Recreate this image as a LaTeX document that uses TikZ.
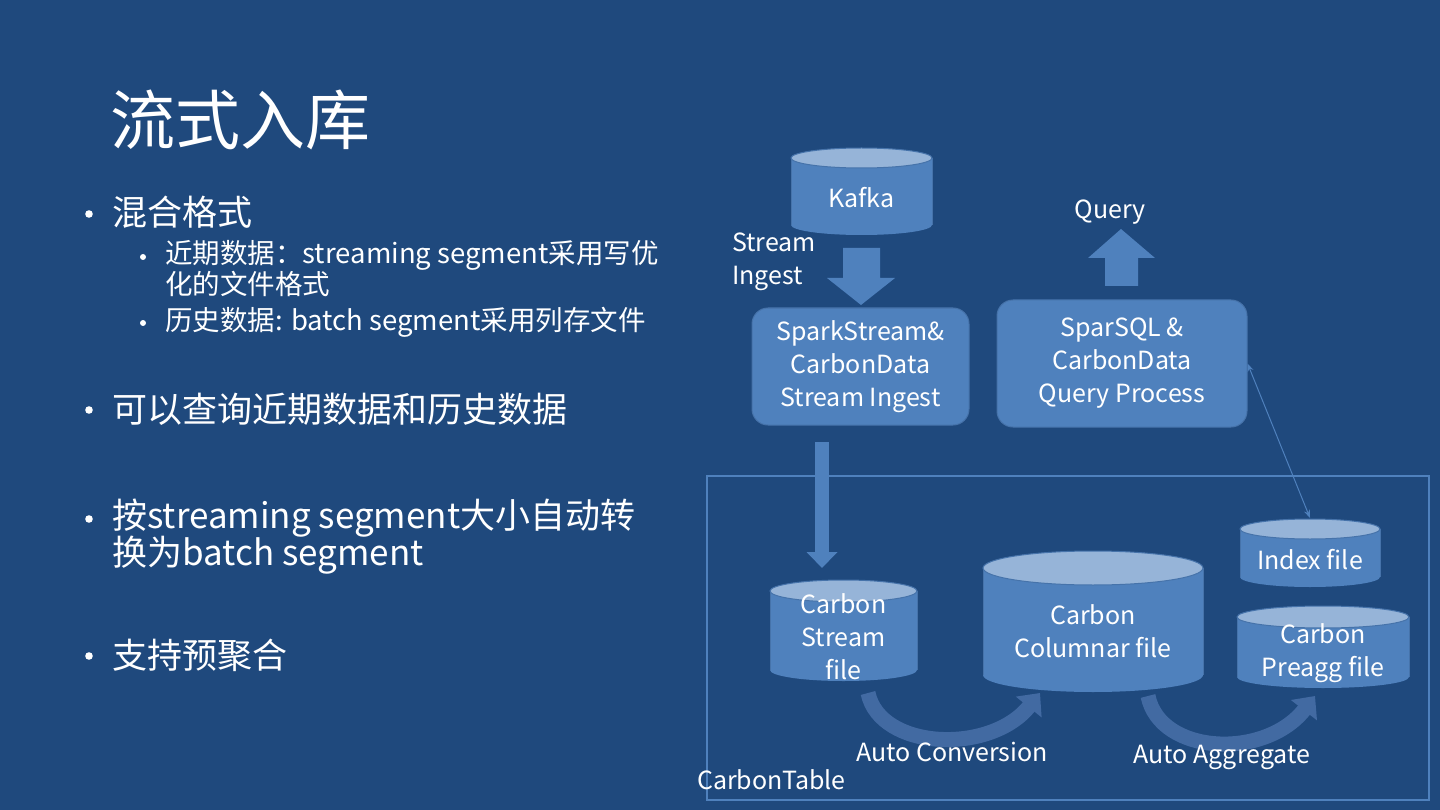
\documentclass[tikz,border=0pt]{standalone}
\usepackage{fontspec}
\setmainfont{Noto Sans CJK SC}
\usetikzlibrary{arrows.meta}
\definecolor{bg}{RGB}{31,73,125}
\definecolor{boxfill}{RGB}{79,129,189}
\definecolor{boxline}{RGB}{70,115,170}
\definecolor{topfill}{RGB}{150,180,216}
\definecolor{curvecol}{RGB}{66,106,162}
\newcommand\mycyl[5]{%
  \fill[boxfill] (#1-#2,#3) rectangle (#1+#2,#4);
  \fill[boxfill] (#1,#4) ellipse [x radius=#2, y radius=#5];
  \draw[boxline, line width=1pt] (#1-#2,#3) -- (#1-#2,#4);
  \draw[boxline, line width=1pt] (#1+#2,#3) -- (#1+#2,#4);
  \fill[topfill] (#1,#3) ellipse [x radius=#2, y radius=#5];
  \draw[boxline, line width=1pt] (#1,#3) ellipse [x radius=#2, y radius=#5];
}
\tikzset{
  txt/.style={text=white, inner sep=0pt},
  title/.style={txt, anchor=west, font=\fontsize{65}{65}\selectfont},
  lvlone/.style={txt, anchor=west, font=\fontsize{35}{38}\selectfont},
  lvltwo/.style={txt, anchor=west, font=\fontsize{27.5}{30}\selectfont},
  dtext/.style={txt, align=center, font=\fontsize{25}{33}\selectfont},
  box/.style={draw=boxline, line width=1pt, fill=boxfill, rounded corners=16pt},
  blockarrow/.style={fill=boxfill},
  dot/.style={fill=white},
}
\begin{document}
\begin{tikzpicture}[x=1pt,y=-1pt]
\fill[bg] (0,0) rectangle (1440,810);
\useasboundingbox (0,0) rectangle (1440,810);

% left text
\node[title] (ttl) at (110,120) {流式入库};
\fill[dot] (89,214) circle (3.8);
\node[lvlone] (t1) at (112,212) {混合格式};
\fill[dot] (143,257) circle (3);
\node[lvltwo] (t2) at (165,255) {近期数据：streaming segment采用写优};
\node[lvltwo] (t2b) at (165,284) {化的文件格式};
\fill[dot] (143,323) circle (3);
\node[lvltwo] (t3) at (165,322) {历史数据: batch segment采用列存文件};
\fill[dot] (89,410) circle (3.8);
\node[lvlone] (t4) at (112,409) {可以查询近期数据和历史数据};
\fill[dot] (89,519) circle (3.8);
\node[lvlone] (t5) at (112,518) {按streaming segment大小自动转};
\node[lvlone] (t5b) at (112,555) {换为batch segment};
\fill[dot] (89,656) circle (3.8);
\node[lvlone] (t6) at (112,655) {支持预聚合};

% frame
\draw[boxfill, line width=1.5pt] (707,476) rectangle (1429,800);
\node[dtext, anchor=west] (ct) at (697,780) {CarbonTable};

% Kafka
\mycyl{861.5}{70.5}{158}{225}{10}
\node[dtext] (kafka) at (861.5,198) {Kafka};
\node[dtext, align=left, anchor=north west] (si) at (732,233) {Stream\\Ingest};

% block arrow down
\fill[blockarrow] (843,248) -- (880,248) -- (880,278) -- (895,278) -- (861,305) -- (827,278) -- (843,278) -- cycle;

% boxes
\node[box, minimum width=217pt, minimum height=117pt] (spark) at (860.5,366.5) {};
\node[dtext] at (spark.center) {SparkStream\&\\CarbonData\\Stream Ingest};
\node[box, minimum width=250pt, minimum height=127pt] (spar) at (1122,363.5) {};
\node[dtext] at (spar.center) {SparSQL \&\\CarbonData\\Query Process};

% Query
\node[dtext] (query) at (1110,212) {Query};
\fill[blockarrow] (1121,229) -- (1155,258) -- (1138,258) -- (1138,286) -- (1105,286) -- (1105,258) -- (1088,258) -- cycle;

% cylinders in table
\mycyl{843.5}{73.5}{591}{670}{11}
\node[dtext] (sfile) at (843.5,637) {Carbon\\Stream\\file};
\mycyl{1093}{110}{568}{675}{17}
\node[dtext] (cfile) at (1093,631) {Carbon\\Columnar file};
\mycyl{1310}{70}{529}{577}{10}
\node[dtext] (ifile) at (1310,560) {Index file};
\mycyl{1323}{86}{617}{677}{11}
\node[dtext] (pfile) at (1323,653) {Carbon\\Preagg file};

% connectors
\coordinate (sparkout) at (822,442);
\coordinate (streamin) at (822,568);
\draw[boxfill, line width=14pt, -{Triangle[width=30pt,length=16pt]}] (sparkout) -- (streamin);

\coordinate (idxtop) at (1310,518);
\draw[boxfill, line width=1pt, {Stealth[length=8pt,width=6pt]}-{Stealth[length=8pt,width=6pt]}] (spar.east) -- (idxtop);

\coordinate (c1s) at (868,693);
\coordinate (c1e) at (1040,693);
\draw[curvecol, line width=15pt, -{Triangle[width=32pt,length=18pt]}] (c1s) .. controls (880,750) and (990,755) .. (c1e);
\node[dtext] (ac) at (952,752) {Auto Conversion};

\coordinate (c2s) at (1148,696);
\coordinate (c2e) at (1315,696);
\draw[curvecol, line width=15pt, -{Triangle[width=32pt,length=18pt]}] (c2s) .. controls (1160,755) and (1265,760) .. (c2e);
\node[dtext] (aa) at (1222,757) {Auto Aggregate};
\end{tikzpicture}
\end{document}
